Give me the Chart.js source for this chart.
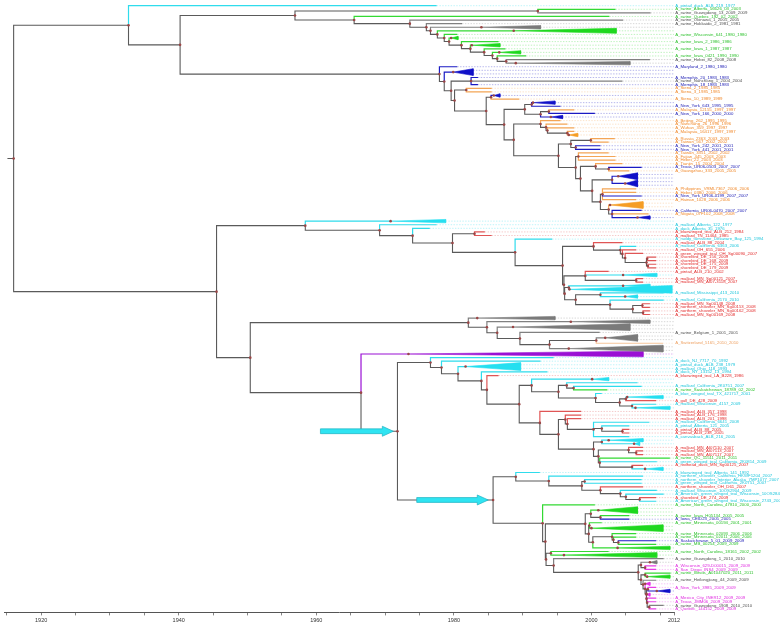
<!DOCTYPE html>
<html>
<head>
<meta charset="utf-8">
<script src="https://cdn.jsdelivr.net/npm/chart.js@4.4.1/dist/chart.umd.min.js"></script>
<style>
  html, body { margin: 0; padding: 0; background: #ffffff; }
  #wrap { width: 780px; height: 628px; }
</style>
</head>
<body>
<div id="wrap"><canvas id="c" width="780" height="628"></canvas></div>
<script>
// ---------------- DATA ----------------
// Time axis (calendar years)
const axisMinYear = 1914.6;
const axisMaxYear = 2012;
const axisTickYears = [1915,1920,1925,1930,1935,1940,1945,1950,1955,1960,1965,1970,1975,1980,1985,1990,1995,2000,2005,2010,2012];
const axisLabelYears = [1920, 1940, 1960, 1980, 2000, 2012];
const rootStubYear = 1915.1;

// Tree, in Newick-like notation: internal node "(child,child,...)year[#tag]";
// tip "lineage|label|year"; collapsed clade "lineage|^rows|startYear|endYear[|height|labels]"
// lineage keys: c avian-like, g swine (NA), k swine (Eurasian/other), b human (H1N1/H3N2), o human (seasonal), r avian (red), m pandemic 2009, p purple clade, l Switzerland
const cladeClassicalSwine = `
((g|A_swine_Alberta_56626_03_2003|2003.5,k|A_swine_Guangdong_13_2009_2009|2008.6)1992.2,
 (g|A_swine_Quebec_192_02_2002|2002.6,
  (k|A_swine_Okinawa_1_2005_2005|2004.6,
   (k|A_swine_Hokkaido_2_1981_1981|1981.2,
    (k|^1|1984.0|1992.6,
     (g|^1|1988.7|2003.6|1.4,
      (g|A_swine_Wisconsin_641_1980_1980|1980.5,
       (g|^1|1979.6|1980.6,
        (g|A_swine_Iowa_2_1986_1986|1986.5,
         (g|^1|1982.6|1986.7,
          (g|A_swine_Iowa_1_1987_1987|1987.5,
           (g|^1|1986.6|1989.7,
            (g|A_swine_Iowa_0421_1990_1990|1990.5,
             (k|A_swine_Hebei_82_2008_2008|2008.5,k|^1|1989.0|2005.6)1987.6
            )1986.3)1985.6)1984.4)1982.4)1981.1)1979.3)1978.6)1977.6)1976.6)1976.0)1973.6)1965.5)1956.9`;

const cladeHumanSeasonal = `
(b|A_Maryland_2_1980_1980|1980.5,
 (b|^2|1979.9|1982.8,
  ((b|A_Memphis_20_1983_1983|1983.5,k|A_swine_Nanchang_1_2004_2004|2004.5,b|A_Memphis_18_1983_1983|1983.5)1982.5,
   ((o|A_Siena_2_1985_1985|1985.5,o|A_Siena_3_1985_1985|1985.5)1981.8,
    ((b|^1|1985.8|1986.7,o|A_Siena_10_1989_1989|1989.5)1985.4,
     (
      ((b|^1|1991.5|1994.7,b|A_New_York_643_1995_1995|1995.5)1991.3,
       ((o|A_Malaysia_12155_1997_1997|1997.5,b|A_New_York_166_2000_2000|2000.5)1993.8,b|^1|1994.1|1995.8)1992.6
      )1990.3,
      (
       (o|A_Beijing_262_1995_1995|1995.5,(o|A_Nanchang_26_1996_1996|1996.5,(o|A_Wuhan_359_1997_1997|1997.5,(o|A_Malaysia_16417_1997_1997|1997.5,o|^1|1996.7|1998.0)1996.5)1993.6)1993.4)1992.6,
       (
        ((o|A_Russia_2363_2003_2003|2003.4,o|A_Taiwan_567_2002_2002|2002.5)1999.9,(b|A_New_York_242_2001_2001|2001.3,b|A_New_York_441_2001_2001|2001.3)1997.7)1997.0,
        ((o|A_Taiwan_3351_2002_2002|2002.5,o|A_Fujian_445_2003_2003|2003.5,o|A_Hebei_22_2003_2003|2003.5)1998.1,
         ((o|A_Tianjin_15_2004_2004|2004.5,(b|A_Texas_UR06-0503_2007_2007|2007.3,o|A_Guangzhou_333_2005_2005|2005.5)2002.5)2000.6,
          ((b|^2|2003.9|2006.7,b|^2|2004.9|2006.7)2003.0,
           ((o|A_Philippines_VRML7367_2006_2006|2006.5,o|A_Hebei_0380_2006_2006|2006.5,b|A_New_York_UR06-0199_2007_2007|2007.3,o|A_Hainan_1028_2006_2006|2006.5)2001.6,
            (o|^2|2002.7|2007.5,(b|A_California_UR06-0470_2007_2007|2007.3,o|A_Niigata_07F102_2008_2008|2008.3,b|^1|2006.7|2008.5)2003.0)2002.5
           )2001.3)2000.1)1998.4)1997.7)1995.2)1988.7)1987.3)1984.7)1980.1)1979.6)1978.6)1977.9`;

const cladeAvianEarly = `
(c|^1|1970.8|1978.8,
 (c|A_mallard_Alberta_122_1977|1977.5,
  (c|A_duck_Alberta_35_1976|1976.5,
   ((r|A_bluewinged_teal_ALB_212_1984|1984.5,r|A_mallard_TN_11464_1985|1985.5)1983.0,
    (c|A_ruddy_turnstone_Delaware_Bay_125_1994|1994.3,
     (
      (r|A_mallard_ALB_88_2004|2004.5,
       (c|A_mallard_California_6363_2006|2006.5,
        (r|A_mallard_OH_655_2006|2006.5,
         (r|A_green_winged_teal_OH_Sg00090_2007|2007.5,
          ((r|A_shorebird_DE_156_2009|2009.4,r|A_shorebird_DE_168_2009|2009.4)2008.1,(r|A_shorebird_DE_175_2009|2009.4,r|A_shorebird_DE_179_2009|2009.4)2008.2)2008.0
         )2004.9)2004.5)2004.2)2000.3,
      (
       (r|A_pintail_ALB_210_2002|2002.5,c|^1|2004.6|2009.5,(r|A_mallard_MN_Sg00121_2007|2007.5,r|A_mallard_MN_AI07-3118_2007|2007.5)2006.5)1999.1,
       ((c|^1|2004.6|2008.5,c|^1|1996.8|2011.7|2.1)1996.7,
        ((c|A_mallard_Mississippi_413_2010|2010.5,c|^1|2004.9|2006.7)2001.3,
         (c|A_mallard_California_2170_2010|2010.5,
          ((r|A_mallard_MN_Sg00148_2008|2008.5,r|A_northern_shoveler_MN_Sg00153_2008|2008.5)2007.4,(r|A_northern_shoveler_MN_Sg00162_2008|2008.5,r|A_mallard_MN_Sg00169_2008|2008.5)2007.5)2006.0
         )2002.7)1997.7)1996.1)1996.0)1995.8)1988.9)1979.8)1974.0)1969.2)1958.4`;

const cladeSwineEurasian = `
(k|^1|1983.4|1994.7,
 (k|^1|1997.0|2008.5,
  (k|^2|1988.6|2005.6,
   (k|A_swine_Belgium_1_2001_2001|2001.2,
    ((k|^2|2002.0|2006.7,l|A_Switzerland_5165_2010_2010|2010.4)2000.7,k|^2|1996.7|2010.4)1993.9
   )1989.6)1986.3)1984.8)1982.1`;

const cladeAvianH = `
(c||1994.5,
 (c|A_duck_NJ_7717_70_1992|1992.6,
  (c|^2|1981.7|1989.7|2.2|A_pintail_duck_ALB_238_1979;A_mallard_Ohio_118_1993,
   (c|A_duck_NY_13152_13_1994|1993.6,
    (r|A_bluewinged_teal_LA_B228_1986|1986.5,
     (
      (c|^1|2000.1|2002.5,
       ((c||2006.7,(c|A_mallard_California_2K0751_2007|2007.3,g|A_swine_Saskatchewan_18789_02_2002|2002.3)1997.4)1996.4,
        (c|A_blue_winged_teal_TX_421717_2001|2001.5,
         ((c|^1|2005.2|2010.4,r|A_gull_DE_428_2009|2009.4)2005.0,(c|A_mallard_Wisconsin_4157_2009|2009.4,c|^1|2006.4|2011.4)2005.9)2004.1
        )2000.6)1995.2)1991.3,
      (r|A_mallard_ALB_357_1998|1998.5,
       (
        (r|A_mallard_ALB_176_1998|1998.5,
         (r|A_mallard_ALB_201_1998|1998.5,
          (c|A_mallard_California_6641_2008|2008.4,(c|A_pintail_Alberta_121_2005|2005.5,(r|A_pintail_ALB_88_2005|2005.5,r|A_pintail_ALB_238_2005|2005.5)2004.5)2001.5,c|A_canvasback_ALB_216_2005|2005.5)2000.3
         )1996.5)1996.2,
        (
         (c|^1|2002.5|2007.5,c|^1|2006.2|2007.0)2001.5,
         (
          (r|A_mallard_MN_AI07110_2007|2007.5,(r|A_mallard_MN_AI07113_2007|2007.5,r|A_mallard_MN_AI07117_2007|2007.5)2006.5)2005.4,
          (g|A_swine_QC_11511_2011_2011|2011.4,c|A_green_winged_teal_California_2K0814_2009|2009.5,(r|A_redhead_duck_MN_Sg00125_2007|2007.5,c|^1|2007.8|2010.4)2005.9)2001.2
         )2001.0)2000.3)1995.2)1992.5)1989.5)1984.8)1984.0)1980.6)1978.2)1976.6`;

const cladeAvianSwineK = `
(
 (c|A_bluewinged_teal_Alberta_141_1992|1992.5,
  (c|A_northern_shoveler_California_HKWF1204_2007|2007.5,
   ((c|A_northern_shoveler_Interior_Alaska_7MP1077_2007|2007.3,c|A_green_winged_teal_California_2K0751_2007|2007.3)1999.0,
    (r|A_northern_shoveler_OH_D61_2007|2007.5,
     (c|A_mallard_Wisconsin_10OS2904_2009|2009.5,
      (c|A_American_green_winged_teal_Wisconsin_10OS2847_2010|2010.5,(r|A_shorebird_DE_274_2009|2009.4,c|A_American_green_winged_teal_Wisconsin_2743_2009|2009.4)2007.0)2005.0
     )2004.2)2001.3)1998.6)1993.8)1989.0,
 (g|A_swine_North_Carolina_47810_2000_2000|2000.5,
  (
   ((g|^2|2001.0|2006.7,(g|A_swine_Iowa_H05134_2005_2005|2005.5,b|A_Iowa_CEID23_2005_2005|2005.5)2001.3)1999.9,
    ((g|A_swine_Minnesota_00194_2001_2001|2001.5,g|^2|2000.0|2010.4)1999.7,
     ((g|A_swine_Minnesota_02093_2006_2006|2006.5,(g|A_swine_Minnesota_02011_2006_2006|2006.5,(b|A_Saskatchewan_5_01_2009_2009|2009.4,g|A_swine_MB_00254_2009_2009|2009.4)2003.9)2003.2)2003.0,g|^1|2003.8|2011.4)2000.2
    )1999.6)1999.1,
   ((g|A_swine_North_Carolina_18161_2002_2002|2002.5,g|^1|1996.0|2009.5|1.4)1994.1,
    (k|A_swine_Guangdong_1_2010_2010|2010.5,
     (
      (k|^1|2008.5|2009.5,(m|A_Wisconsin_629-D00015_2009_2009|2009.4,m|A_San_Diego_INS4_2009_2009|2009.4)2007.8)2007.2,
      ((g|A_swine_Illinois_A01047020_2011_2011|2011.5,g|^1|2008.1|2011.4)2007.8,
       (k|A_swine_Heilongjiang_44_2009_2009|2009.4,
        (m|^1|2007.8|2008.5,
         ((m|A_New_York_3985_2009_2009|2009.4,b|^1|2009.5|2011.4)2008.2,
          (m|^1|2008.0|2008.5,(m|A_Mexico_City_INER12_2009_2009|2009.4,m|A_Texas_JMM06_2009_2009|2009.4,(k|A_swine_Guangdong_1908_2010_2010|2010.5,m|A_Quebec_144152_2009_2009|2009.4)2008.4)2008.1)2008.0
         )2008.0)2007.8)2007.5)2007.2)2006.8)1994.5)1993.4)1993.3)1992.9)1985.7#K`;

const cladeA = `(c|A_pintail_duck_ALB_219_1977|1977.5,(${cladeClassicalSwine},${cladeHumanSeasonal})1940.2)1932.7`;
const cladeB = `(${cladeAvianEarly},(${cladeSwineEurasian},(p|^1|1973.4|2007.5|1.6,(${cladeAvianH},${cladeAvianSwineK})1971.8#Q)1966.5)1950.4)1945.5`;
const treeNewick = `(${cladeA},${cladeB})1916.0`;

// Annotation arrows pointing at two tagged nodes
const arrowTargets = ['Q', 'K'];
const arrowStartYears = [1960.6, 1974.6];
const arrowEndYears = [1971.2, 1985.0];

// ---------------- STYLE ----------------
const lineColor = { c:'#2fdcec', g:'#33d933', k:'#808080', b:'#1a1ac4', o:'#f4a555', r:'#e05555', m:'#e83ce8', p:'#9a10d4', l:'#f6c69c' };
const fillColor = { c:'#25dff0', g:'#1ed81e', k:'#7a7a7a', b:'#1010c8', o:'#f59d25', r:'#e04040', m:'#e62ee6', p:'#9a10d4', l:'#f6c69c' };
const textColor = { c:'#1fc6dc', g:'#2fc22f', k:'#505050', b:'#1c1cb4', o:'#f0892c', r:'#e22a2a', m:'#df28df', p:'#8a0ac0', l:'#eea060' };
function rgba(hex, a) {
  const n = parseInt(hex.slice(1), 16);
  return `rgba(${(n>>16)&255},${(n>>8)&255},${n&255},${a})`;
}

// ---------------- PARSE + LAYOUT ----------------
function parseTree(src) {
  const s = src.replace(/\s+/g, '');
  let i = 0;
  function readNum() {
    const m = /^-?[0-9.]+/.exec(s.slice(i));
    if (!m) throw new Error('number expected at ' + i + ': ' + s.slice(i, i + 30));
    i += m[0].length; return parseFloat(m[0]);
  }
  function node() {
    if (s[i] === '(') {
      i++;
      const kids = [];
      for (;;) {
        kids.push(node());
        const ch = s[i++];
        if (ch === ',') continue;
        if (ch === ')') break;
        throw new Error('parse error at ' + i);
      }
      const year = readNum();
      let tag = null;
      if (s[i] === '#') { i++; const m = /^\w+/.exec(s.slice(i)); tag = m[0]; i += tag.length; }
      return { kids, year, tag };
    }
    const j = i;
    while (i < s.length && s[i] !== ',' && s[i] !== ')') i++;
    const p = s.slice(j, i).split('|');
    if (p[1].startsWith('^')) {
      const span = parseInt(p[1].slice(1), 10);
      return { tri: true, color: p[0], span, apex: +p[2], end: +p[3],
               height: p[4] ? +p[4] : span * 0.95, labels: p[5] ? p[5].split(';') : [] };
    }
    return { color: p[0], label: p[1], year: +p[2] };
  }
  return node();
}

const root = parseTree(treeNewick);
let nextRow = 0;
function place(n) {
  if (n.kids) {
    n.kids.forEach(place);
    n.y = (n.kids[0].y + n.kids[n.kids.length - 1].y) / 2;
    n.x = n.year;
  } else if (n.tri) {
    n.row0 = nextRow; n.y = nextRow + (n.span - 1) / 2; nextRow += n.span; n.x = n.apex;
  } else {
    n.y = nextRow++; n.x = n.year;
  }
}
place(root);
const rowCount = nextRow;

const branchPts = {};   // key -> points (null-separated)
const leaderPts = {};   // lineage -> points
const triangles = [];
const tipLabels = [];
const nodeDots = [];
const tagged = {};
function pushPath(store, key, pts) {
  const a = (store[key] = store[key] || []);
  pts.forEach(p => a.push(p));
  a.push({ x: pts[pts.length - 1].x, y: null });
}
function collect(n, parent) {
  if (parent) {
    pushPath(branchPts, n.kids ? 'internal' : n.color,
      [{ x: parent.x, y: parent.y }, { x: parent.x, y: n.y }, { x: n.x, y: n.y }]);
  }
  if (n.kids) {
    nodeDots.push({ x: n.x, y: n.y });
    if (n.tag) tagged[n.tag] = n;
    n.kids.forEach(k => collect(k, n));
  } else if (n.tri) {
    triangles.push(n);
    nodeDots.push({ x: n.apex, y: n.y });
    for (let r = 0; r < n.span; r++) {
      pushPath(leaderPts, n.color, [{ x: n.end, y: n.row0 + r }, { x: axisMaxYear, y: n.row0 + r }]);
      if (n.labels[r]) tipLabels.push({ text: n.labels[r], color: n.color, row: n.row0 + r });
    }
  } else {
    pushPath(leaderPts, n.color, [{ x: n.year, y: n.y }, { x: axisMaxYear, y: n.y }]);
    if (n.label) tipLabels.push({ text: n.label, color: n.color, row: n.y });
  }
}
collect(root, null);
pushPath(branchPts, 'internal', [{ x: rootStubYear, y: root.y }, { x: root.x, y: root.y }]);

// ---------------- DATASETS ----------------
const datasets = [];
datasets.push({ data: nodeDots, showLine: false, pointRadius: 1.3, pointBackgroundColor: '#9a4646',
                pointBorderWidth: 0, order: 0 });
Object.keys(branchPts).forEach(k => {
  datasets.push({ data: branchPts[k], showLine: true, pointRadius: 0,
    borderColor: k === 'internal' ? '#5a5a5a' : lineColor[k], borderWidth: k === 'internal' ? 1.1 : 1.2,
    order: 1 });
});
triangles.forEach(t => {
  const h = t.height / 2;
  datasets.push({ data: [{ x: t.apex, y: t.y }, { x: t.end, y: t.y - h }, { x: t.end, y: t.y + h }, { x: t.apex, y: t.y }],
    showLine: true, pointRadius: 0, fill: 'shape', backgroundColor: fillColor[t.color],
    borderColor: fillColor[t.color], borderWidth: 0.6, order: 2 });
});
Object.keys(leaderPts).forEach(k => {
  datasets.push({ data: leaderPts[k], showLine: true, pointRadius: 0,
    borderColor: rgba(lineColor[k], 0.45), borderWidth: 0.7, borderDash: [1.4, 1.4], order: 3 });
});

// ---------------- PLUGINS ----------------
const labelPlugin = {
  id: 'tipLabels',
  afterDraw(chart) {
    const { ctx, scales: { x, y } } = chart;
    ctx.save();
    ctx.font = '4.3px "Liberation Sans", Arial, sans-serif';
    ctx.textBaseline = 'middle';
    ctx.textAlign = 'left';
    const lx = x.getPixelForValue(axisMaxYear) + 1.2;
    tipLabels.forEach(l => {
      ctx.fillStyle = textColor[l.color];
      ctx.fillText(l.text, lx, y.getPixelForValue(l.row));
    });
    ctx.restore();
  }
};
const arrowPlugin = {
  id: 'arrows',
  afterDatasetsDraw(chart) {
    const { ctx, scales: { x, y } } = chart;
    ctx.save();
    arrowTargets.forEach((tag, i) => {
      const n = tagged[tag];
      const yy = y.getPixelForValue(n.y);
      const x0 = x.getPixelForValue(arrowStartYears[i]);
      const x1 = x.getPixelForValue(arrowEndYears[i]);
      const shaft = 2.4, head = 5, headLen = 11;
      ctx.beginPath();
      ctx.moveTo(x0, yy - shaft);
      ctx.lineTo(x1 - headLen, yy - shaft);
      ctx.lineTo(x1 - headLen, yy - head);
      ctx.lineTo(x1, yy);
      ctx.lineTo(x1 - headLen, yy + head);
      ctx.lineTo(x1 - headLen, yy + shaft);
      ctx.lineTo(x0, yy + shaft);
      ctx.closePath();
      ctx.fillStyle = '#2fe4f2';
      ctx.fill();
      ctx.strokeStyle = '#1fb2c2';
      ctx.lineWidth = 0.7;
      ctx.stroke();
    });
    ctx.restore();
  }
};

// ---------------- CHART ----------------
new Chart(document.getElementById('c'), {
  type: 'scatter',
  data: { datasets },
  options: {
    responsive: false,
    devicePixelRatio: 1,
    animation: false,
    events: [],
    layout: { padding: { left: 0, right: 106, top: 0, bottom: 2 } },
    plugins: { legend: { display: false }, tooltip: { enabled: false }, title: { display: false } },
    scales: {
      x: {
        type: 'linear', min: axisMinYear, max: axisMaxYear,
        afterBuildTicks: s => { s.ticks = axisTickYears.map(v => ({ value: v })); },
        ticks: {
          autoSkip: false, maxRotation: 0, padding: 2, color: '#333',
          font: { family: '"Liberation Sans", Arial, sans-serif', size: 5.5 },
          callback: v => axisLabelYears.includes(v) ? String(v) : ''
        },
        grid: { drawOnChartArea: false, drawTicks: true, tickLength: 3, color: '#666', lineWidth: 0.8 },
        border: { display: true, color: '#555', width: 1 }
      },
      y: { type: 'linear', display: false, reverse: true, min: -0.47, max: rowCount - 0.04 }
    }
  },
  plugins: [arrowPlugin, labelPlugin]
});
</script>
</body>
</html>
